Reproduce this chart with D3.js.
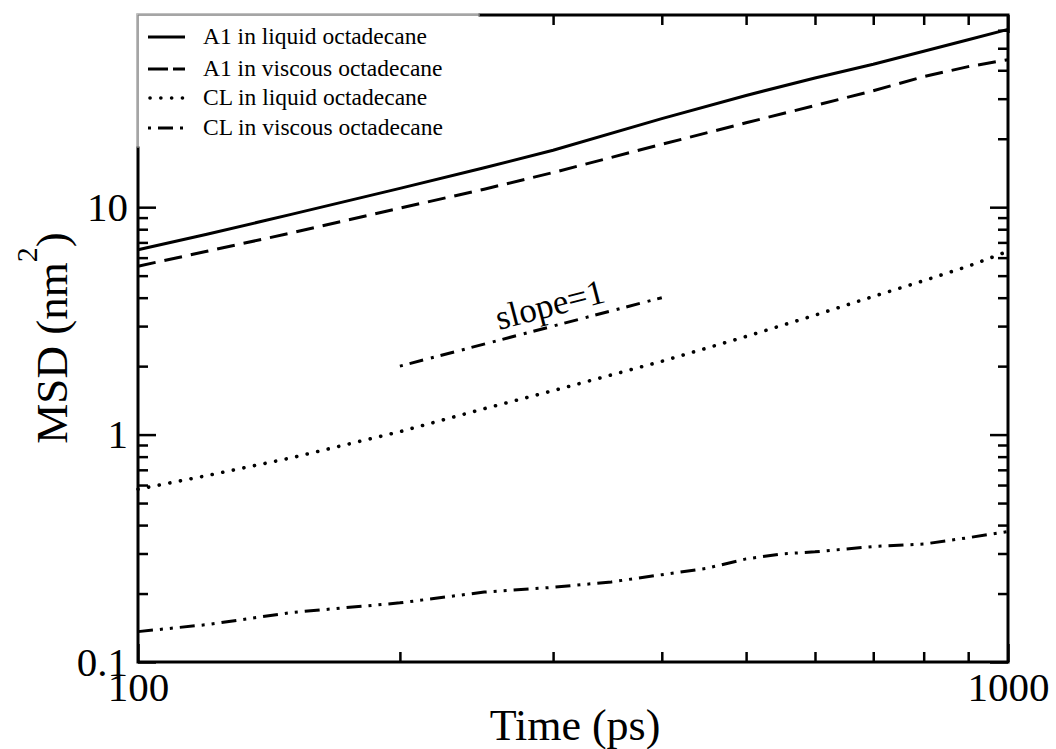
<!DOCTYPE html>
<html>
<head>
<meta charset="utf-8">
<script src="https://cdn.jsdelivr.net/npm/d3@7"></script>
<style>
  body { margin: 0; background: #fff; }
  text { font-family: "Liberation Serif", "Times New Roman", "DejaVu Serif", serif; fill: #000; }
</style>
</head>
<body>
<div id="chart"></div>
<script>
// time axis (ps)
const time = [100, 120, 150, 200, 250, 300, 400, 500, 600, 700, 800, 900, 1000];
const a1Liquid = [6.5, 7.6, 9.3, 12.1, 14.9, 17.8, 24.5, 31, 37, 42.5, 48.5, 54.5, 60.5];
const a1Viscous = [5.5, 6.4, 7.7, 9.9, 12, 14.2, 18.9, 23.5, 28, 32.5, 37.5, 41.5, 44.5];
const clLiquid = [0.575, 0.66, 0.79, 1.03, 1.3, 1.56, 2.1, 2.7, 3.35, 4.05, 4.75, 5.5, 6.4];
const timeClViscous = [100, 120, 150, 200, 250, 300, 350, 400, 450, 500, 550, 600, 700, 800, 900, 1000];
const clViscous = [0.136, 0.146, 0.165, 0.182, 0.203, 0.213, 0.225, 0.242, 0.258, 0.284, 0.299, 0.305, 0.322, 0.33, 0.352, 0.375];
const slopeT = [200, 400];
const slopeV = [2, 4];

const xMajor = [100, 1000];
const xMinor = [200, 300, 400, 500, 600, 700, 800, 900];
const yMajor = [0.1, 1, 10];
const yMinor = [0.2, 0.3, 0.4, 0.5, 0.6, 0.7, 0.8, 0.9, 2, 3, 4, 5, 6, 7, 8, 9, 20, 30, 40, 50, 60];

const legendLabels = ["A1 in liquid octadecane", "A1 in viscous octadecane", "CL in liquid octadecane", "CL in viscous octadecane"];

const W = 1056, H = 749;
const mLeft = 138, mRight = 1008, mTop = 15, mBottom = 662;

const svg = d3.select("#chart").append("svg").attr("width", W).attr("height", H);

const x = d3.scaleLog().domain([100, 1000]).range([mLeft, mRight]);
const y = d3.scaleLog().domain([0.1, 70]).range([mBottom, mTop]);

const styles = [
  { dash: null, width: 3 },
  { dash: "18,9", width: 3 },
  { dash: "0.1,10.7", width: 3.6, cap: "round" },
  { dash: "15,7,3,7,3,7", width: 3 }
];

const series = [
  time.map((t, i) => [t, a1Liquid[i]]),
  time.map((t, i) => [t, a1Viscous[i]]),
  time.map((t, i) => [t, clLiquid[i]]),
  timeClViscous.map((t, i) => [t, clViscous[i]])
];

const line = d3.line().x(d => x(d[0])).y(d => y(d[1]));

svg.append("g").selectAll("path")
  .data(series)
  .join("path")
  .attr("d", line)
  .attr("fill", "none")
  .attr("stroke", "#000")
  .attr("stroke-width", (d, i) => styles[i].width)
  .attr("stroke-dasharray", (d, i) => styles[i].dash)
  .attr("stroke-linecap", (d, i) => styles[i].cap || "butt");

// slope = 1 guide
const slopeData = slopeT.map((t, i) => [t, slopeV[i]]);
svg.append("path")
  .attr("d", line(slopeData))
  .attr("fill", "none")
  .attr("stroke", "#000")
  .attr("stroke-width", 3)
  .attr("stroke-dasharray", "3,7,14,8");

const sx0 = x(slopeT[0]), sy0 = y(slopeV[0]), sx1 = x(slopeT[1]), sy1 = y(slopeV[1]);
const angle = Math.atan2(sy1 - sy0, sx1 - sx0) * 180 / Math.PI;
svg.append("text")
  .attr("transform", `translate(${(sx0 + sx1) / 2 + 22},${(sy0 + sy1) / 2 - 16}) rotate(${angle})`)
  .attr("text-anchor", "middle")
  .style("font-size", "35px")
  .text("slope=1");

// axes, ticks pointing inward on all four sides
function drawAxis(axisFn, transform, values, size, labels) {
  const g = svg.append("g")
    .attr("transform", transform)
    .call(axisFn.tickValues(values).tickSize(-size).tickPadding(10)
      .tickFormat(labels ? d3.format("~g") : ""));
  g.select(".domain").remove();
  g.selectAll(".tick line").attr("stroke", "#000").attr("stroke-width", 2.5);
  g.selectAll(".tick text").style("font-size", "41px").attr("font-family", null);
  return g;
}

drawAxis(d3.axisBottom(x), `translate(0,${mBottom})`, xMajor, 18, true);
drawAxis(d3.axisBottom(x), `translate(0,${mBottom})`, xMinor, 10, false);
drawAxis(d3.axisTop(x), `translate(0,${mTop})`, xMajor, 18, false);
drawAxis(d3.axisTop(x), `translate(0,${mTop})`, xMinor, 10, false);
drawAxis(d3.axisLeft(y), `translate(${mLeft},0)`, yMajor, 18, true);
drawAxis(d3.axisLeft(y), `translate(${mLeft},0)`, yMinor, 10, false);
drawAxis(d3.axisRight(y), `translate(${mRight},0)`, yMajor, 18, false);
drawAxis(d3.axisRight(y), `translate(${mRight},0)`, yMinor, 10, false);

svg.append("rect")
  .attr("x", mLeft).attr("y", mTop)
  .attr("width", mRight - mLeft).attr("height", mBottom - mTop)
  .attr("fill", "none").attr("stroke", "#000").attr("stroke-width", 3);

// legend box covers the top-left corner of the frame
const leg = svg.append("g");
leg.append("rect")
  .attr("x", mLeft - 1.5).attr("y", mTop - 1.5)
  .attr("width", 480 - mLeft).attr("height", 148 - mTop)
  .attr("fill", "#fff");
leg.append("path")
  .attr("d", `M${mLeft},148V${mTop}H480`)
  .attr("fill", "none").attr("stroke", "#888").attr("stroke-width", 1.5);

const legY = [37, 69, 98, 128];
const rows = leg.selectAll("g.row")
  .data(legendLabels)
  .join("g")
  .attr("class", "row")
  .attr("transform", (d, i) => `translate(0,${legY[i]})`);

rows.append("line")
  .attr("x1", 148).attr("x2", 185)
  .attr("stroke", "#000")
  .attr("stroke-width", (d, i) => styles[i].width)
  .attr("stroke-dasharray", (d, i) => i === 1 ? "20,5" : styles[i].dash)
  .attr("stroke-dashoffset", (d, i) => i === 3 ? 32 : (i === 2 ? -2 : 0))
  .attr("stroke-linecap", (d, i) => styles[i].cap || "butt");

rows.append("text")
  .attr("x", 203)
  .attr("dy", "0.3em")
  .style("font-size", "23.5px")
  .text(d => d);

// axis titles
svg.append("text")
  .attr("x", 575).attr("y", 740)
  .attr("text-anchor", "middle")
  .style("font-size", "44px")
  .text("Time (ps)");

const yTitle = svg.append("text")
  .attr("transform", "translate(67,338) rotate(-90)")
  .attr("text-anchor", "middle")
  .style("font-size", "45px");
yTitle.append("tspan").text("MSD (nm");
yTitle.append("tspan").attr("dy", -30).style("font-size", "30px").text("2");
yTitle.append("tspan").attr("dy", 30).text(")");
</script>
</body>
</html>
